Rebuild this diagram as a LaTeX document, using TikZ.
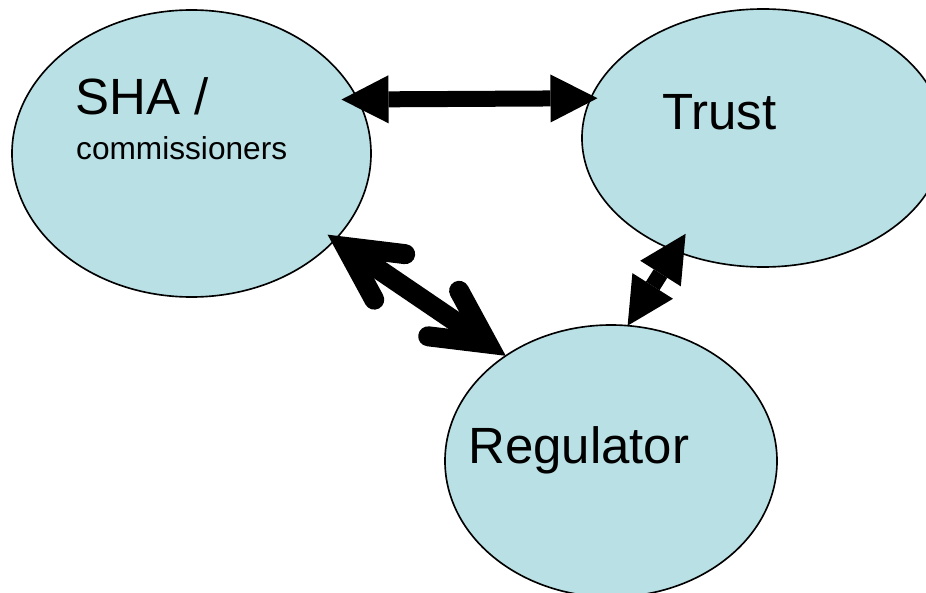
\documentclass[tikz,border=0pt]{standalone}
\usepackage{fontspec}
\setmainfont{Liberation Sans}
\usetikzlibrary{arrows.meta,shapes.geometric}
\definecolor{bubblefill}{RGB}{185,224,228}

\tikzset{
  bubble/.style={ellipse,draw,line width=1.4pt,fill=bubblefill,inner sep=0pt,outer sep=0pt},
  bigtext/.style={anchor=base west,inner sep=0pt,font=\fontsize{43.5}{52}\selectfont},
  smalltext/.style={anchor=base west,inner sep=0pt,font=\fontsize{27}{32}\selectfont},
  fatlink/.style={line width=0.48cm,
    {Triangle[length=1.41cm,width=1.44cm,line width=0pt]}-{Triangle[length=1.41cm,width=1.44cm,line width=0pt]}},
  barblink/.style={line width=0.6cm,
    {Straight Barb[length=1.6cm,width=1.65cm,line cap=round,line join=miter]}-{Straight Barb[length=1.6cm,width=1.65cm,line cap=round,line join=miter]}}
}

\begin{document}
\begin{tikzpicture}[x=0.03cm,y=-0.03cm]
  \path[use as bounding box,clip] (0,0) rectangle (926,593);
  % the three bodies
  \foreach \name/\xpos/\ypos/\bodyw/\bodyh in {%
      sha/191.5/153.5/10.77cm/8.61cm,
      trust/763/138/10.86cm/7.74cm,
      reg/611/461/9.96cm/8.16cm%
  }{%
      \node[bubble,minimum width=\bodyw,minimum height=\bodyh] (\name) at (\xpos,\ypos) {};
  }
  \node[bigtext] (sha-name) at (75,115) {SHA /};
  \node[smalltext] (sha-sub) at (76,160) {commissioners};
  \node[bigtext] (trust-name) at (662,130) {Trust};
  \node[bigtext] (reg-name) at (468,463) {Regulator};
  % links
  \draw[fatlink,shorten <=-0.49cm,shorten >=-0.2cm] (sha.18.2) -- (trust.167.3);
  \draw[barblink,shorten <=-0.27cm] (sha.-31) -- (reg.135);
  \draw[fatlink,shorten >=-0.6cm] (reg.83) -- (trust.232);
\end{tikzpicture}
\end{document}
